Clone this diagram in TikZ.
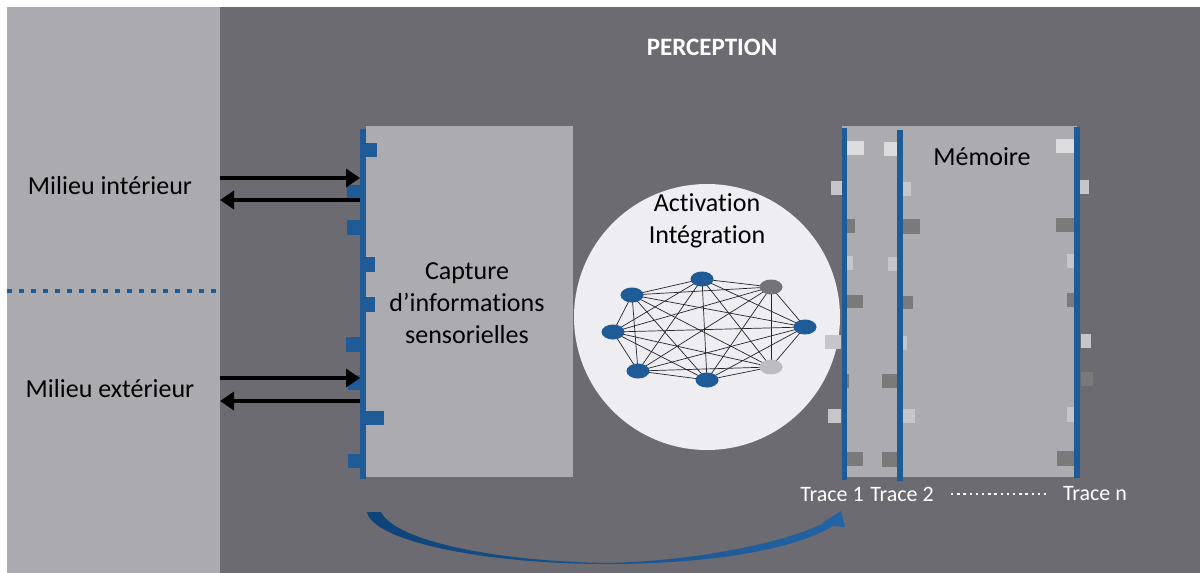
\documentclass[tikz,border=0pt]{standalone}
\usepackage{fontspec}
\setmainfont{Carlito}[Ligatures={NoCommon}]
\usetikzlibrary{arrows.meta,shapes.geometric}
\definecolor{leftbg}{HTML}{ABAAAF}
\definecolor{darkbg}{HTML}{6C6B71}
\definecolor{boxgray}{HTML}{ACABB0}
\definecolor{pblue}{HTML}{1F5B97}
\definecolor{circbg}{HTML}{EDEDF2}
\definecolor{nodegray}{HTML}{747476}
\definecolor{nodelight}{HTML}{BDBDC1}
\definecolor{sqlight}{HTML}{DCDCDE}
\definecolor{sqmid}{HTML}{C6C6C8}
\definecolor{sqdark}{HTML}{7A7A7B}
\definecolor{arrdark}{HTML}{0E4378}
\definecolor{arrblue}{HTML}{2464A4}
\pgfdeclarelayer{front}
\pgfsetlayers{main,front}
\begin{document}
\begin{tikzpicture}[x=1pt,y=-1pt,
  lbl/.style={font=\fontsize{26}{32}\selectfont, align=center, inner sep=0pt},
  tracelbl/.style={font=\fontsize{22}{26}\selectfont, text=white, inner sep=0pt},
  bigbox/.style={fill=boxgray, inner sep=0pt, anchor=north west},
  blueline/.style={draw=pblue, line width=5.5pt},
  thickarrow/.style={line width=4.2pt, -{Triangle[length=14pt,width=18pt]}, black},
  netnode/.style={ellipse, minimum width=23pt, minimum height=15pt, inner sep=0pt},
  netedge/.style={draw=black!85, line width=0.7pt}]
\useasboundingbox (0,0) rectangle (1200,573);
\fill[white] (0,0) rectangle (1200,573);
\fill[leftbg] (7,7) rectangle (220,573);
\fill[darkbg] (220,7) rectangle (1200,573);

% title
\node[inner sep=0pt, text=white, font=\bfseries\fontsize{25}{30}\selectfont] (title) at (712,47) {PERCEPTION};

% left side
\node[lbl] (int) at (110,186) {Milieu intérieur};
\node[lbl] (ext) at (110,389) {Milieu extérieur};
\coordinate (dl) at (7,291);
\coordinate (dr) at (220,291);
\draw[pblue, line width=4pt, dash pattern=on 5pt off 7pt] (dl) -- (dr);

% capture box
\node[bigbox, minimum width=207pt, minimum height=351pt] (capture) at (366,126) {};
\node[lbl] (capturetxt) at (467,303) {Capture\\d’informations\\sensorielles};
\coordinate (cl1) at (363,129);
\coordinate (cl2) at (363,479);
\draw[blueline] (cl1) -- (cl2);
\foreach \a/\b/\c/\d in {360/143/377/157, 347/185/361/198, 347/220/361/235, 360/257/375/272,
  360/297/375/312, 346/337/361/352, 348/375/361/390, 360/411/384/425, 348/454/361/468}
  \fill[pblue] (\a,\b) rectangle (\c,\d);

% arrows
\coordinate (a1s) at (220,178); \coordinate (a1e) at (360,178);
\coordinate (a2s) at (360,200); \coordinate (a2e) at (220,200);
\coordinate (a3s) at (220,378); \coordinate (a3e) at (360,378);
\coordinate (a4s) at (360,401); \coordinate (a4e) at (220,401);
\draw[thickarrow] (a1s) -- (a1e);
\draw[thickarrow] (a2s) -- (a2e);
\draw[thickarrow] (a3s) -- (a3e);
\draw[thickarrow] (a4s) -- (a4e);

% activation circle
\node[circle, fill=circbg, minimum size=266pt, inner sep=0pt] (act) at (707,317) {};
\node[lbl] (acttxt) at (707,221) {Activat\kern0pt ion\\Intégrat\kern0pt ion};

\begin{pgfonlayer}{front}
\node[netnode, fill=pblue] (n1) at (702,279) {};
\node[netnode, fill=pblue] (n2) at (632,295) {};
\node[netnode, fill=nodegray] (n3) at (771,287) {};
\node[netnode, fill=pblue] (n4) at (613,332) {};
\node[netnode, fill=pblue] (n5) at (805,327) {};
\node[netnode, fill=pblue] (n6) at (638,371) {};
\node[netnode, fill=pblue] (n7) at (707,380) {};
\node[netnode, fill=nodelight] (n8) at (771,367) {};
\end{pgfonlayer}
\foreach \i in {1,...,8}{
  \foreach \j in {1,...,8}{
    \ifnum\i<\j
      \draw[netedge] (n\i.center) -- (n\j.center);
    \fi
  }
}

% memory block
\node[bigbox, minimum width=235pt, minimum height=351pt] (mem) at (842,126) {};
\node[lbl] (memtxt) at (982,157) {Mémoire};
\foreach \a/\b/\c/\d/\col in {
  846/141/864/155/sqlight, 831/181/843/195/sqmid, 843/219/855/233/sqdark, 847/256/853/270/sqmid,
  847/295/863/308/sqdark, 825/335/841/349/sqmid, 846/374/849/388/sqdark, 828/409/841/423/sqmid,
  847/452/863/466/sqdark,
  884/142/898/156/sqlight, 900/182/911/196/sqmid, 900/219/920/234/sqdark, 888/257/897/271/sqmid,
  903/296/913/309/sqdark, 903/336/907/350/sqmid, 882/374/897/388/sqdark, 903/409/915/423/sqmid,
  882/452/897/467/sqdark,
  1056/139/1075/153/sqlight, 1079/180/1089/194/sqmid, 1056/218/1075/232/sqdark, 1067/254/1074/268/sqmid,
  1067/293/1074/307/sqdark, 1081/334/1091/348/sqmid, 1081/372/1093/386/sqdark, 1067/407/1074/422/sqmid,
  1057/451/1075/466/sqdark}
  \fill[\col] (\a,\b) rectangle (\c,\d);
\coordinate (m1t) at (844.5,128); \coordinate (m1b) at (844.5,480);
\coordinate (m2t) at (900,130); \coordinate (m2b) at (900,481);
\coordinate (m3t) at (1077,127); \coordinate (m3b) at (1077,478);
\draw[blueline] (m1t) -- (m1b);
\draw[blueline] (m2t) -- (m2b);
\draw[blueline] (m3t) -- (m3b);

% trace labels
\node[tracelbl] (t1) at (832,494) {Trace 1};
\node[tracelbl] (t2) at (902,494) {Trace 2};
\node[tracelbl] (tn) at (1095,494) {Trace n};
\coordinate (dots1) at (951,494);
\coordinate (dots2) at (1046,494);
\draw[white, line width=2.4pt, dash pattern=on 2.4pt off 3.8pt] (dots1) -- (dots2);

% curved arrow
\shade[left color=arrdark, right color=arrblue]
  (367,512) .. controls (372,540) and (480,564) .. (607,564)
  .. controls (700,564) and (790,552) .. (833,526)
  -- (845,527) -- (841,511) -- (822,523) -- (826,522)
  .. controls (790,541) and (700,561) .. (607,563)
  .. controls (490,561) and (395,540) .. (381,512) -- cycle;
\end{tikzpicture}
\end{document}
